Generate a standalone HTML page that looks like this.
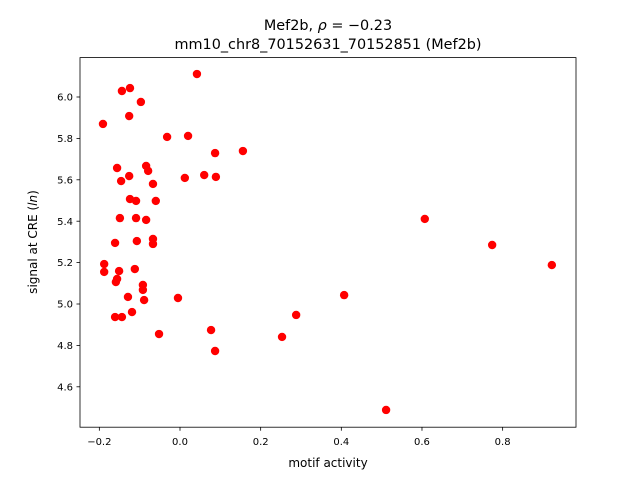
<!DOCTYPE html>
<html><head><meta charset="utf-8"><style>
body{margin:0;background:#fff}
svg text{font-family:"DejaVu Sans","Liberation Sans",sans-serif;fill:#000}
</style></head><body>
<svg id="chart" width="640" height="480" xmlns="http://www.w3.org/2000/svg">
<rect width="640" height="480" fill="#fff"/>
<text x="328" y="30" font-size="14.4" text-anchor="middle">Mef2b, <tspan font-style="italic">ρ</tspan> = −0.23</text>
<text x="328" y="49" font-size="14.4" text-anchor="middle">mm10_chr8_70152631_70152851 (Mef2b)</text>
<g id="xticks"></g>
<g id="yticks"></g>
<g id="points"></g>
<rect x="80" y="57.6" width="496" height="369.6" fill="none" stroke="#000" stroke-width="0.8"/>
<text x="328" y="467" font-size="12" text-anchor="middle">motif activity</text>
<text transform="translate(37,242) rotate(-90)" font-size="12" text-anchor="middle">signal at CRE (<tspan font-style="italic">ln</tspan>)</text>
</svg>
<script>
const xValues=[-0.191,-0.144,-0.124,-0.097,-0.126,0.042,-0.032,0.020,0.087,0.156,-0.156,-0.084,-0.079,-0.126,0.060,0.012,0.089,-0.146,-0.067,-0.124,-0.109,-0.060,-0.149,-0.109,-0.084,-0.107,-0.067,-0.067,-0.161,-0.188,-0.188,-0.151,-0.112,-0.159,-0.156,-0.092,-0.092,-0.129,-0.089,-0.005,-0.161,-0.144,-0.119,-0.052,0.077,0.087,0.253,0.288,0.407,0.607,0.774,0.922,0.511];
const yValues=[5.870,6.029,6.043,5.976,5.908,6.111,5.807,5.812,5.729,5.739,5.657,5.667,5.643,5.618,5.623,5.609,5.614,5.594,5.580,5.507,5.498,5.498,5.415,5.415,5.406,5.304,5.314,5.290,5.295,5.193,5.155,5.159,5.169,5.106,5.121,5.092,5.068,5.034,5.019,5.029,4.937,4.937,4.961,4.855,4.874,4.773,4.841,4.947,5.043,5.411,5.285,5.188,4.488];
const xTicks=[-0.2,0.0,0.2,0.4,0.6,0.8];
const xTickLabels=["−0.2","0.0","0.2","0.4","0.6","0.8"];
const yTicks=[4.6,4.8,5.0,5.2,5.4,5.6,5.8,6.0];
const yTickLabels=["4.6","4.8","5.0","5.2","5.4","5.6","5.8","6.0"];
const NS="http://www.w3.org/2000/svg";
const X=v=>180+v*403.3;
const Y=v=>97+(6.0-v)*207;
function mk(tag,attrs,parent){const e=document.createElementNS(NS,tag);for(const k in attrs)e.setAttribute(k,attrs[k]);parent.appendChild(e);return e;}
const gx=document.getElementById('xticks');
xTicks.forEach((t,i)=>{
  const l=mk('line',{x1:X(t),x2:X(t),y1:427.2,y2:430.7,stroke:'#000','stroke-width':0.8},gx);
  
  
  const tx=mk('text',{x:X(t),y:445,'font-size':10,'text-anchor':'middle'},gx);
  tx.textContent=xTickLabels[i];
  
  
});
const gy=document.getElementById('yticks');
yTicks.forEach((t,i)=>{
  const l=mk('line',{x1:76.5,x2:80,y1:Y(t),y2:Y(t),stroke:'#000','stroke-width':0.8},gy);
  
  
  const tx=mk('text',{x:73,y:Y(t)+3.6,'font-size':10,'text-anchor':'end'},gy);
  tx.textContent=yTickLabels[i];
  
  
});
const gp=document.getElementById('points');
xValues.forEach((v,i)=>{
  const c=mk('circle',{cx:X(v),cy:Y(yValues[i]),r:4.2,fill:'#ff0000'},gp);
  
  
});
</script>
</body></html>
